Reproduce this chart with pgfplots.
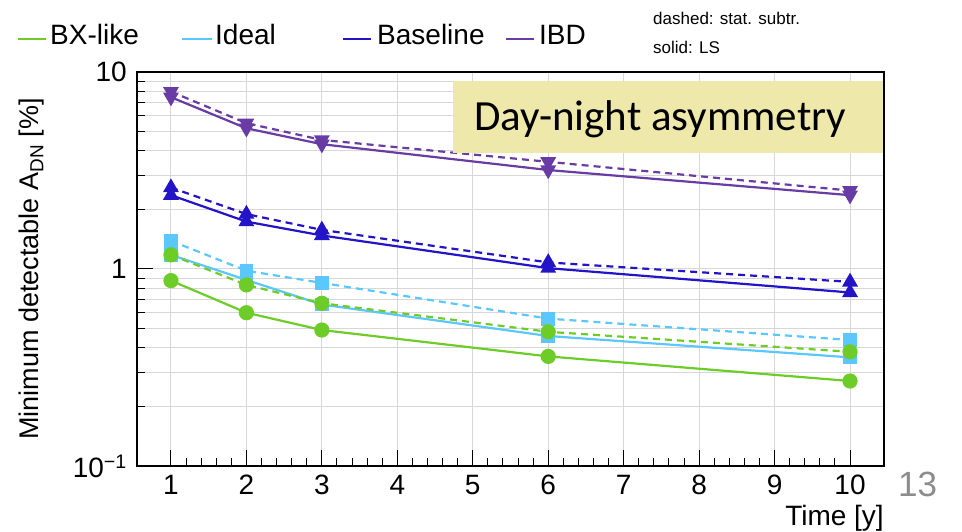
\documentclass[border=0pt]{standalone}
\usepackage{fontspec}
\setmainfont{Liberation Sans}
\newfontfamily\carlito{Carlito}
\usepackage{pgfplots}
\pgfplotsset{compat=1.18}
\definecolor{cbx}{RGB}{110,204,40}
\definecolor{cid}{RGB}{90,200,255}
\definecolor{cbl}{RGB}{35,20,200}
\definecolor{cibd}{RGB}{105,60,165}
\definecolor{gridc}{RGB}{215,215,215}
\definecolor{boxc}{RGB}{238,232,170}
\begin{document}
\begin{tikzpicture}
\begin{scope}[x=1pt,y=-1pt,shift={(-137pt,466pt)}]
\useasboundingbox (0,0) rectangle (962,532);
\end{scope}
\begin{axis}[
  at={(0,0)}, anchor=south west,
  scale only axis, width=747pt, height=394pt,
  xmin=0.55, xmax=10.45,
  ymode=log, ymin=0.1, ymax=10,
  xtick={1,2,3,4,5,6,7,8,9,10},
  xticklabels={1,2,3,4,5,6,7,8,9,10},
  minor x tick num=4,
  ytick={0.1,1,10},
  yticklabels={10\textsuperscript{−1},1,10},
  minor ytick={0.2,0.3,0.4,0.5,0.6,0.7,0.8,0.9,2,3,4,5,6,7,8,9},
  xmajorgrids, ymajorgrids, yminorgrids,
  grid style={gridc, line width=1pt},
  major grid style={gridc, line width=1pt},
  minor grid style={gridc, line width=1pt},
  tick pos=left, tick align=inside,
  major tick length=16pt, minor tick length=8pt,
  every tick/.style={black, line width=1pt},
  axis line style={black, line width=1.2pt},
  tick label style={font=\fontsize{28}{32}\selectfont},
  xticklabel style={anchor=base, inner sep=0pt, yshift=-29pt},
  yticklabel style={anchor=east, inner sep=0pt, xshift=-10pt},
  xlabel={Time [y]},
  xlabel style={at={(rel axis cs:1,0)}, anchor=base east, inner sep=0pt, yshift=-59pt, font=\fontsize{28}{32}\selectfont},
  ylabel={Minimum detectable A\textsubscript{DN} [\%]},
  ylabel style={at={(axis description cs:-0.1406,0.5)}, anchor=center, inner sep=0pt, font=\fontsize{27}{32}\selectfont},
]
% Ideal
\addplot[cid, line width=2.2pt, dash pattern=on 7pt off 5pt, mark=square*, mark size=5.8pt, mark options={solid, fill=cid, draw=cid}]
  coordinates {(1,1.39) (2,0.98) (3,0.85) (6,0.56) (10,0.436)};
\addplot[cid, line width=2.2pt, mark=square*, mark size=5.8pt, mark options={solid, fill=cid, draw=cid}]
  coordinates {(1,1.18) (2,0.88) (3,0.66) (6,0.457) (10,0.356)};
% BX-like
\addplot[cbx, line width=2.2pt, dash pattern=on 7pt off 5pt, mark=*, mark size=6.5pt, mark options={solid, fill=cbx, draw=cbx}]
  coordinates {(1,1.18) (2,0.83) (3,0.67) (6,0.48) (10,0.38)};
\addplot[cbx, line width=2.2pt, mark=*, mark size=6.5pt, mark options={solid, fill=cbx, draw=cbx}]
  coordinates {(1,0.873) (2,0.60) (3,0.49) (6,0.36) (10,0.27)};
% Baseline
\addplot[cbl, line width=2.2pt, dash pattern=on 7pt off 5pt, mark=triangle*, mark size=7pt, mark options={solid, fill=cbl, draw=cbl}]
  coordinates {(1,2.59) (2,1.90) (3,1.58) (6,1.08) (10,0.86)};
\addplot[cbl, line width=2.2pt, mark=triangle*, mark size=7pt, mark options={solid, fill=cbl, draw=cbl}]
  coordinates {(1,2.37) (2,1.74) (3,1.48) (6,1.01) (10,0.76)};
% IBD
\addplot[cibd, line width=2.2pt, dash pattern=on 7pt off 5pt, mark=triangle*, mark size=7pt, mark options={solid, rotate=180, fill=cibd, draw=cibd}]
  coordinates {(1,7.95) (2,5.5) (3,4.52) (6,3.5) (10,2.50)};
\addplot[cibd, line width=2.2pt, mark=triangle*, mark size=7pt, mark options={solid, rotate=180, fill=cibd, draw=cibd}]
  coordinates {(1,7.45) (2,5.18) (3,4.30) (6,3.18) (10,2.37)};
\end{axis}
\begin{scope}[x=1pt,y=-1pt,shift={(-137pt,466pt)}]
% legend
\draw[cbx, line width=2.2pt] (18,39) -- (46,39);
\node[anchor=base west, inner sep=0pt, font=\fontsize{28}{32}\selectfont] at (50,45) {BX-like};
\draw[cid, line width=2.2pt] (182,39) -- (212,39);
\node[anchor=base west, inner sep=0pt, font=\fontsize{28}{32}\selectfont] at (215,45) {Ideal};
\draw[cbl, line width=2.2pt] (343,39) -- (371,39);
\node[anchor=base west, inner sep=0pt, font=\fontsize{28}{32}\selectfont] at (377,45) {Baseline};
\draw[cibd, line width=2.2pt] (506,39) -- (534,39);
\node[anchor=base west, inner sep=0pt, font=\fontsize{28}{32}\selectfont] at (539,45) {IBD};
\node[anchor=base west, inner sep=0pt, font=\fontsize{17}{20}\selectfont] at (653,25) {dashed: stat. subtr.};
\node[anchor=base west, inner sep=0pt, font=\fontsize{17}{20}\selectfont] at (653,54) {solid: LS};
% annotation box
\fill[boxc] (453,81) rectangle (883,153);
\node[anchor=base west, inner sep=0pt, font=\carlito\fontsize{43}{50}\selectfont] at (474,131) {Day-night asymmetry};
% slide number
\node[anchor=base west, inner sep=0pt, text=black!45, font=\fontsize{35}{40}\selectfont] at (898,497) {13};
\end{scope}
\end{tikzpicture}
\end{document}
